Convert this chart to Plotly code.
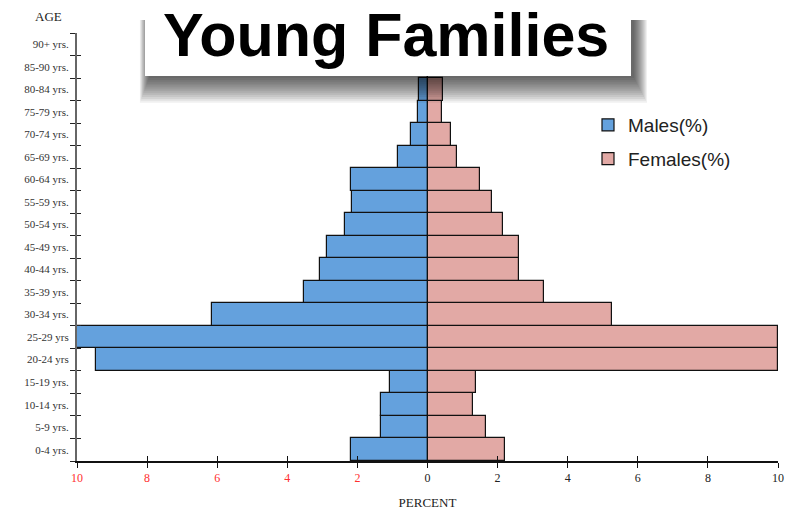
import plotly.graph_objects as go

ages = ["0-4 yrs.", "5-9 yrs.", "10-14 yrs.", "15-19 yrs.", "20-24 yrs", "25-29 yrs",
        "30-34 yrs.", "35-39 yrs.", "40-44 yrs.", "45-49 yrs.", "50-54 yrs.", "55-59 yrs.",
        "60-64 yrs.", "65-69 yrs.", "70-74 yrs.", "75-79 yrs.", "80-84 yrs.", "85-90 yrs.", "90+ yrs."]
males = [2.17, 1.34, 1.34, 1.08, 9.46, 10.0, 6.15, 3.53, 3.08, 2.88, 2.34, 2.14,
         2.17, 0.83, 0.46, 0.26, 0.23, 0, 0]
females = [2.22, 1.68, 1.31, 1.37, 10.0, 10.0, 5.27, 3.33, 2.62, 2.62, 2.14, 1.85,
           1.51, 0.85, 0.68, 0.40, 0.43, 0, 0]
x_tick_vals = [-10, -8, -6, -4, -2, 0, 2, 4, 6, 8, 10]
x_tick_text = ["10", "8", "6", "4", "2", "0", "2", "4", "6", "8", "10"]

W, H = 785, 518
L, R, T, B = 77, 7, 33, 57
PW, PH = W - L - R, H - T - B


def px(x):
    return (x - L) / PW


def py(y):
    return (H - B - y) / PH


tick_text = [
    '<span style="color:%s">%s</span>' % ("#ff3030" if v < 0 else "#222222", t)
    for v, t in zip(x_tick_vals, x_tick_text)
]

fig = go.Figure()
fig.add_trace(go.Bar(
    y=ages, x=[-m for m in males], orientation="h", name="Males(%)",
    marker=dict(color="#64a1dd", line=dict(color="#111111", width=1.2)),
    xaxis="x", yaxis="y", legendgroup="m",
))
fig.add_trace(go.Bar(
    y=ages, x=females, orientation="h", name="Females(%)",
    marker=dict(color="#e2a9a5", line=dict(color="#111111", width=1.2)),
    xaxis="x2", yaxis="y2", legendgroup="f",
))

common_y = dict(type="category", categoryorder="array", categoryarray=ages,
                range=[-0.5, len(ages) - 0.5], tickson="boundaries", automargin=False)
common_x = dict(range=[-10, 10], tickvals=x_tick_vals, zeroline=False, showgrid=False,
                automargin=False)

fig.update_layout(
    width=W, height=H,
    margin=dict(l=L, r=R, t=T, b=B, pad=0, autoexpand=False),
    paper_bgcolor="white", plot_bgcolor="white",
    bargap=0, barmode="overlay",
    showlegend=True,
    legend=dict(x=px(588), y=py(106), xanchor="left", yanchor="top",
                font=dict(family="Liberation Sans, Arial", size=19, color="#222222"),
                bgcolor="rgba(0,0,0,0)", tracegroupgap=6, traceorder="grouped",
                itemwidth=30),
    xaxis=dict(**common_x, ticktext=tick_text, ticks="outside", ticklen=5,
               tickcolor="#111", showline=True, linecolor="#111", linewidth=1.5,
               tickfont=dict(family="Liberation Serif, Times New Roman", size=12, color="#222"),
               title=dict(text="PERCENT", standoff=14,
                          font=dict(family="Liberation Serif, Times New Roman", size=13, color="#222"))),
    xaxis2=dict(**common_x, overlaying="x", anchor="y", side="bottom",
                showticklabels=False, ticks="inside", ticklen=5, tickcolor="#111",
                showline=False),
    yaxis=dict(**common_y, ticks="outside", ticklen=5, tickcolor="#222",
               showline=True, linecolor="#666", linewidth=2,
               tickfont=dict(family="Liberation Serif, Times New Roman", size=11, color="#333"),
               ticklabelstandoff=4),
    yaxis2=dict(**common_y, overlaying="y", anchor="x", side="left",
                showticklabels=False, ticks="inside", ticklen=4, tickcolor="#222",
                showline=False),
)

shapes = []
# shadow under the title box
for k in range(14):
    shapes.append(dict(type="rect", xref="paper", yref="paper", layer="above",
                       x0=px(149 - k * 0.7), x1=px(634 + k * 1.0),
                       y0=py(78 + k * 1.9), y1=py(20),
                       fillcolor="rgba(0,0,0,0.06)", line=dict(width=0)))
shapes.append(dict(type="rect", xref="paper", yref="paper", layer="above",
                   x0=px(145), x1=px(631), y0=py(76), y1=py(-5),
                   fillcolor="white", line=dict(width=0)))
fig.update_layout(shapes=shapes)

fig.add_annotation(text="<b>Young Families</b>", xref="paper", yref="paper",
                   x=px(386), y=py(-1), xanchor="center", yanchor="top",
                   showarrow=False,
                   font=dict(family="Liberation Sans, Arial", size=61, color="black"))
fig.add_annotation(text="AGE", xref="paper", yref="paper",
                   x=px(48), y=py(16), xanchor="center", yanchor="middle",
                   showarrow=False,
                   font=dict(family="Liberation Serif, Times New Roman", size=13, color="#222"))

fig.write_html("out.html", config={"displayModeBar": False},
               post_script="document.body.style.margin='0px';document.body.style.overflow='hidden';")
